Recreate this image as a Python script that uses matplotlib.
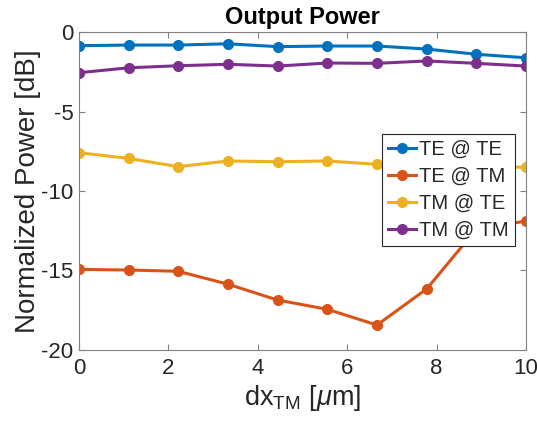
import numpy as np
import matplotlib
matplotlib.use("Agg")
import matplotlib.pyplot as plt

plt.rcParams['font.family'] = ['Liberation Sans', 'DejaVu Sans']
plt.rcParams['mathtext.fontset'] = 'custom'
plt.rcParams['mathtext.rm'] = 'Liberation Sans'
plt.rcParams['mathtext.it'] = 'Liberation Sans:italic'
plt.rcParams['axes.unicode_minus'] = False

# Data
dx = np.linspace(0, 10, 10)
te_te = [-0.86, -0.82, -0.82, -0.74, -0.92, -0.88, -0.88, -1.07, -1.40, -1.62]
te_tm = [-14.93, -14.97, -15.05, -15.86, -16.86, -17.44, -18.43, -16.16, -12.4, -11.89]
tm_te = [-7.59, -7.95, -8.47, -8.11, -8.16, -8.11, -8.32, -8.35, -8.45, -8.51]
tm_tm = [-2.56, -2.25, -2.12, -2.03, -2.14, -1.95, -1.97, -1.82, -1.97, -2.14]

labels = ['TE @ TE', 'TE @ TM', 'TM @ TE', 'TM @ TM']
colors = ['#0072BD', '#D95319', '#EDB120', '#7E2F8E']

fig = plt.figure(figsize=(5.37, 4.23), dpi=100)
ax = fig.add_axes([0.147, 0.1726, 0.8325, 0.7517])

for y, lab, c in zip([te_te, te_tm, tm_te, tm_tm], labels, colors):
    ax.plot(dx, y, '-o', color=c, lw=2.2, ms=7, label=lab)

ax.set_xlim(0, 10)
ax.set_ylim(-20, 0)
ax.set_xticks([0, 2, 4, 6, 8, 10])
ax.set_yticks([-20, -15, -10, -5, 0])

axcol = '#262626'
for s in ax.spines.values():
    s.set_color('#808080')
    s.set_linewidth(0.8)
ax.tick_params(direction='in', top=True, right=True, length=4, width=0.8,
               color='#808080', labelsize=16, labelcolor=axcol)
ax.tick_params(axis='x', pad=6)
ax.tick_params(axis='y', pad=4)

ax.set_title('Output Power', fontsize=17, fontweight='bold', color='black', pad=6)
ax.set_xlabel(r'dx$_{\mathrm{TM}}$ [$\mu$m]', fontsize=19.5, color=axcol, labelpad=3)
ax.set_ylabel('Normalized Power [dB]', fontsize=20, color=axcol, labelpad=0)

leg = ax.legend(loc='center left', bbox_to_anchor=(0.678, 0.503), fontsize=14.5,
                frameon=True, fancybox=False, framealpha=1, edgecolor='#262626',
                handlelength=1.4, handletextpad=0.15, borderpad=0.3,
                labelspacing=0.4, borderaxespad=0, labelcolor=axcol)
leg.get_frame().set_linewidth(0.8)

fig.savefig('out.png', dpi=100)
